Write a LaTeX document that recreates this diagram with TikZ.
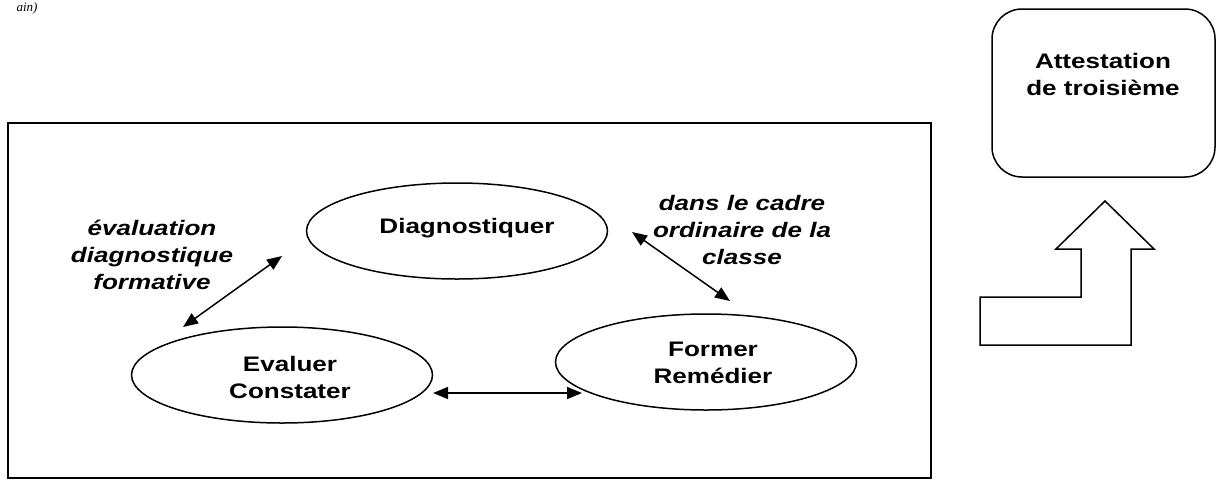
\documentclass[tikz,border=0pt]{standalone}
\usepackage{fontspec}
\newfontfamily\diagfont[FakeStretch=1.24]{Liberation Sans}
\newfontfamily\topfont{Liberation Serif}
\usetikzlibrary{shapes.geometric,arrows.meta}

\begin{document}
\begin{tikzpicture}[x=1pt, y=-1pt,
  every node/.style={font=\diagfont\bfseries\fontsize{21}{27}\selectfont, align=center},
  oval/.style={draw, line width=1.5pt, ellipse, inner sep=0pt, minimum width=301pt, minimum height=96pt},
  note/.style={font=\diagfont\bfseries\itshape\fontsize{21}{27}\selectfont},
  link/.style={line width=1.5pt, {Triangle[length=15pt,width=12pt]}-{Triangle[length=15pt,width=12pt]}}]

\useasboundingbox (0,0) rectangle (1217,480);

% caption at the top
\node[font=\topfont\itshape\fontsize{13}{15}\selectfont, anchor=base east] (cap) at (41,11) {ain)};

% frame
\draw[line width=2pt] (8,123) rectangle (931,478);

% the three steps
\node[oval] (diag) at (457,231) {};
\node[oval] (eval) at (282,375) {};
\node[oval] (form) at (706,362) {};
\node (diagtxt) at (467,228) {Diagnostiquer};
\node (evaltxt) at (290,377) {Evaluer\\Constater};
\node (formtxt) at (713,363) {Former\\Remédier};

\node[note] (evalnote) at (152,255) {évaluation\\diagnostique\\formative};
\node[note] (formnote) at (742,230) {dans le cadre\\ordinaire de la\\classe};

% arrow ends
\coordinate (ed) at (183,327);
\coordinate (de) at (282,256);
\coordinate (df) at (632,232);
\coordinate (fd) at (730,301);
\coordinate (ef) at (433,393);
\coordinate (fe) at (582,393);

\draw[link] (ed) -- (de);
\draw[link] (df) -- (fd);
\draw[link] (ef) -- (fe);

% attestation
\draw[line width=1.5pt, rounded corners=30pt] (992,9) rectangle (1215,177);
\node (attest) at (1103,74) {Attestation\\de troisième};

% bent arrow
\draw[line width=1.5pt, line join=miter] (980,297) -- (1081,297) -- (1081,249) -- (1056,249) -- (1105,201)
  -- (1154,249) -- (1131,249) -- (1131,345) -- (980,345) -- cycle;
\end{tikzpicture}
\end{document}
